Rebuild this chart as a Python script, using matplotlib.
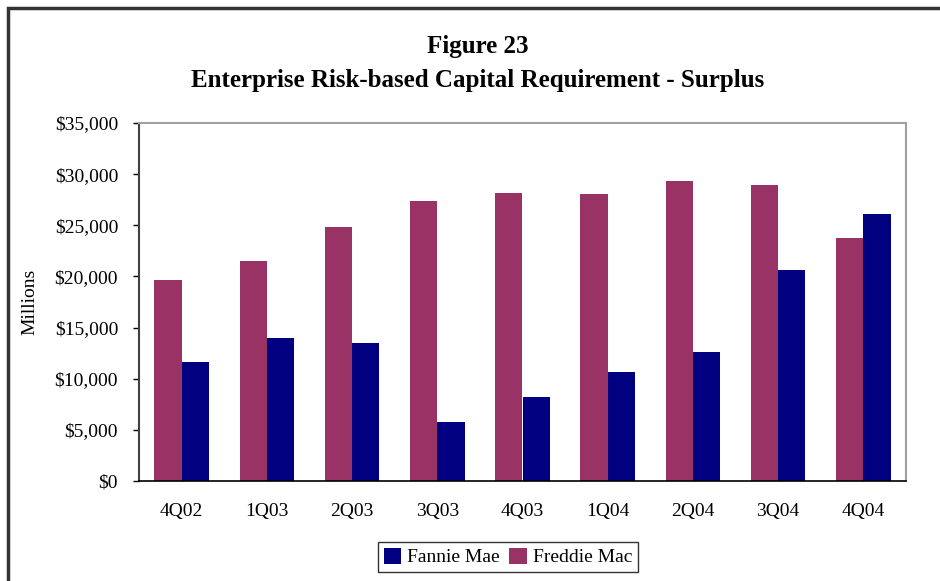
import numpy as np
import matplotlib
matplotlib.use("Agg")
import matplotlib.pyplot as plt
from matplotlib.patches import Rectangle
from matplotlib.ticker import FuncFormatter

plt.rcParams['font.family'] = ['Liberation Serif', 'DejaVu Serif']

# Datos (millones de dolares)
trimestres = ["4Q02", "1Q03", "2Q03", "3Q03", "4Q03", "1Q04", "2Q04", "3Q04", "4Q04"]
fannie = [11600, 14000, 13500, 5800, 8200, 10700, 12600, 20600, 26100]
freddie = [19650, 21500, 24800, 27350, 28150, 28050, 29350, 28950, 23750]

col_fannie = "#000080"
col_freddie = "#993366"

fig = plt.figure(figsize=(9.4, 5.81), dpi=100)
ax = fig.add_axes([139/940, 1 - 481/581, 767/940, 358/581])

x = np.arange(len(trimestres))
w = 0.32
b_fannie = ax.bar(x + w/2, fannie, w, color=col_fannie, label="Fannie Mae")
b_freddie = ax.bar(x - w/2, freddie, w, color=col_freddie, label="Freddie Mac")

ax.set_xlim(-0.5, len(trimestres) - 0.5)
ax.set_ylim(0, 35000)
ax.set_yticks(np.arange(0, 35001, 5000))
ax.yaxis.set_major_formatter(FuncFormatter(lambda v, p: "${:,.0f}".format(v)))
ax.set_xticks(x)
ax.set_xticklabels(trimestres)
ax.tick_params(axis="y", direction="out", length=4, width=1, pad=11, labelsize=14)
ax.tick_params(axis="x", length=0, pad=16, labelsize=14)

ax.spines["left"].set_color("#404040")
ax.spines["left"].set_linewidth(1.5)
ax.spines["bottom"].set_color("black")
ax.spines["bottom"].set_linewidth(1.2)
ax.spines["top"].set_color("#a0a0a0")
ax.spines["right"].set_color("#a0a0a0")
ax.spines["top"].set_linewidth(1.5)
ax.spines["right"].set_linewidth(1.5)

fig.text(30/940, 1 - 302/581, "Millions", rotation=90, ha="center", va="center", fontsize=14)

# Titulos
fig.text(478/940, 1 - 46/581, "Figure 23", ha="center", va="center",
         fontsize=18, fontweight="bold")
fig.text(478/940, 1 - 80/581, "Enterprise Risk-based Capital Requirement - Surplus",
         ha="center", va="center", fontsize=18, fontweight="bold")

# Leyenda
leg = fig.legend(handles=[b_fannie, b_freddie], loc="center",
                 bbox_to_anchor=(508/940, 1 - 557/581), ncol=2, fontsize=14,
                 frameon=True, fancybox=False, handlelength=0.9, handleheight=0.9,
                 handletextpad=0.3, columnspacing=0.5, borderpad=0.3)
leg.get_frame().set_edgecolor("black")
leg.get_frame().set_linewidth(1.0)

# Marco de la figura
fig.patches.append(Rectangle((8/940, -0.1), 1.2, 1 - 8/581 + 0.1, transform=fig.transFigure,
                             fill=False, edgecolor="#333333", linewidth=2.5))

plt.savefig("out.png", dpi=100)
